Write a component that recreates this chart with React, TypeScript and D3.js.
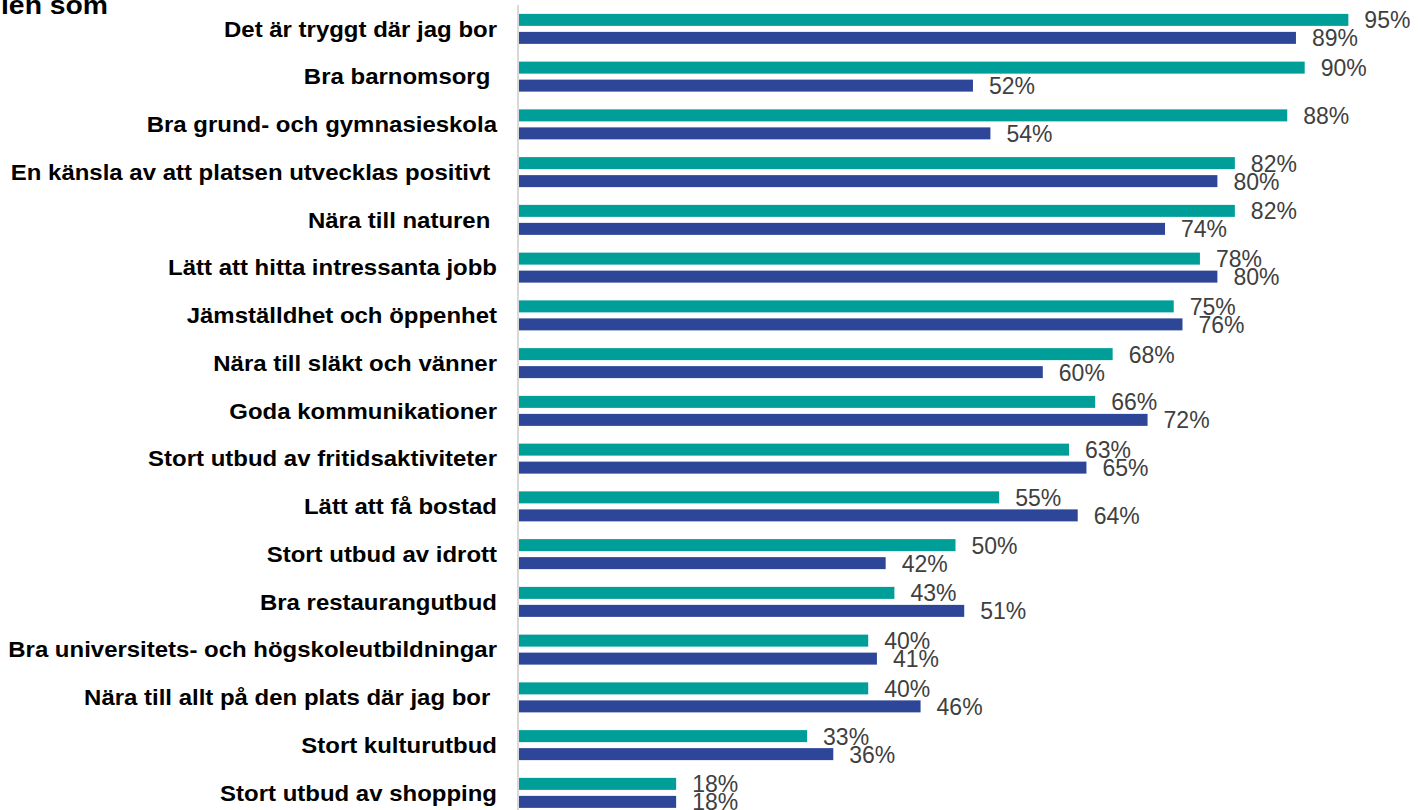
import React from 'react';
import * as d3 from 'd3';

// kategorier (ordning uppifrån och ned)
const categories = [
  'Det är tryggt där jag bor',
  'Bra barnomsorg ',
  'Bra grund- och gymnasieskola',
  'En känsla av att platsen utvecklas positivt ',
  'Nära till naturen ',
  'Lätt att hitta intressanta jobb',
  'Jämställdhet och öppenhet',
  'Nära till släkt och vänner',
  'Goda kommunikationer',
  'Stort utbud av fritidsaktiviteter',
  'Lätt att få bostad',
  'Stort utbud av idrott',
  'Bra restaurangutbud',
  'Bra universitets- och högskoleutbildningar',
  'Nära till allt på den plats där jag bor ',
  'Stort kulturutbud',
  'Stort utbud av shopping',
];

const seriesA = [95, 90, 88, 82, 82, 78, 75, 68, 66, 63, 55, 50, 43, 40, 40, 33, 18];
const seriesB = [89, 52, 54, 80, 74, 80, 76, 60, 72, 65, 64, 42, 51, 41, 46, 36, 18];

const seriesKeys = ['a', 'b'];
const COLORS: Record<string, string> = { a: '#009E98', b: '#2E4698' };

const W = 1418;
const H = 810;
const STRETCH = 1.09; // texten i förlagan är något utdragen i sidled

export default function App() {
  const x = d3.scaleLinear().domain([0, 100]).range([519, 1392]);
  const y = d3.scaleBand<string>().domain(categories).range([5, 5 + 17 * 47.75]).padding(0);
  const bw = y.bandwidth();
  const sub = d3
    .scaleBand<string>()
    .domain(seriesKeys)
    .range([bw / 2 - 15, bw / 2 + 15])
    .paddingInner(1 / 3)
    .paddingOuter(0);

  const rows = categories.map((c, i) => ({ c, a: seriesA[i], b: seriesB[i] }));

  return (
    <svg
      width={W}
      height={H}
      style={{ position: 'absolute', left: 0, top: 0, background: '#fff' }}
      fontFamily="'Liberation Sans', Arial, sans-serif"
    >
      {/* avklippt rubrik */}
      <text transform={`translate(1,14) scale(${STRETCH},1)`} fontSize={26} fontWeight="bold" fill="#000">
        len som
      </text>

      {/* axellinje */}
      <line x1={518} x2={518} y1={5} y2={H} stroke="#D9D9D9" strokeWidth={2} />

      {rows.map((r) => {
        const y0 = y(r.c)!;
        return (
          <g key={r.c} transform={`translate(0,${y0})`}>
            <text
              transform={`translate(497,${bw / 2}) scale(${STRETCH},1)`}
              dy="0.35em"
              textAnchor="end"
              fontSize={22}
              fontWeight="bold"
              fill="#000"
              style={{ whiteSpace: 'pre' }}
            >
              {r.c}
            </text>
            {seriesKeys.map((k) => {
              const v = (r as any)[k] as number;
              const by = sub(k)!;
              return (
                <g key={k}>
                  <rect
                    x={x(0)}
                    y={by}
                    width={x(v) - x(0)}
                    height={sub.bandwidth()}
                    fill={COLORS[k]}
                  />
                  <text
                    x={x(v) + 16}
                    y={by + sub.bandwidth() / 2}
                    dy="0.37em"
                    fontSize={23}
                    fill="#404040"
                  >
                    {v}%
                  </text>
                </g>
              );
            })}
          </g>
        );
      })}
    </svg>
  );
}
